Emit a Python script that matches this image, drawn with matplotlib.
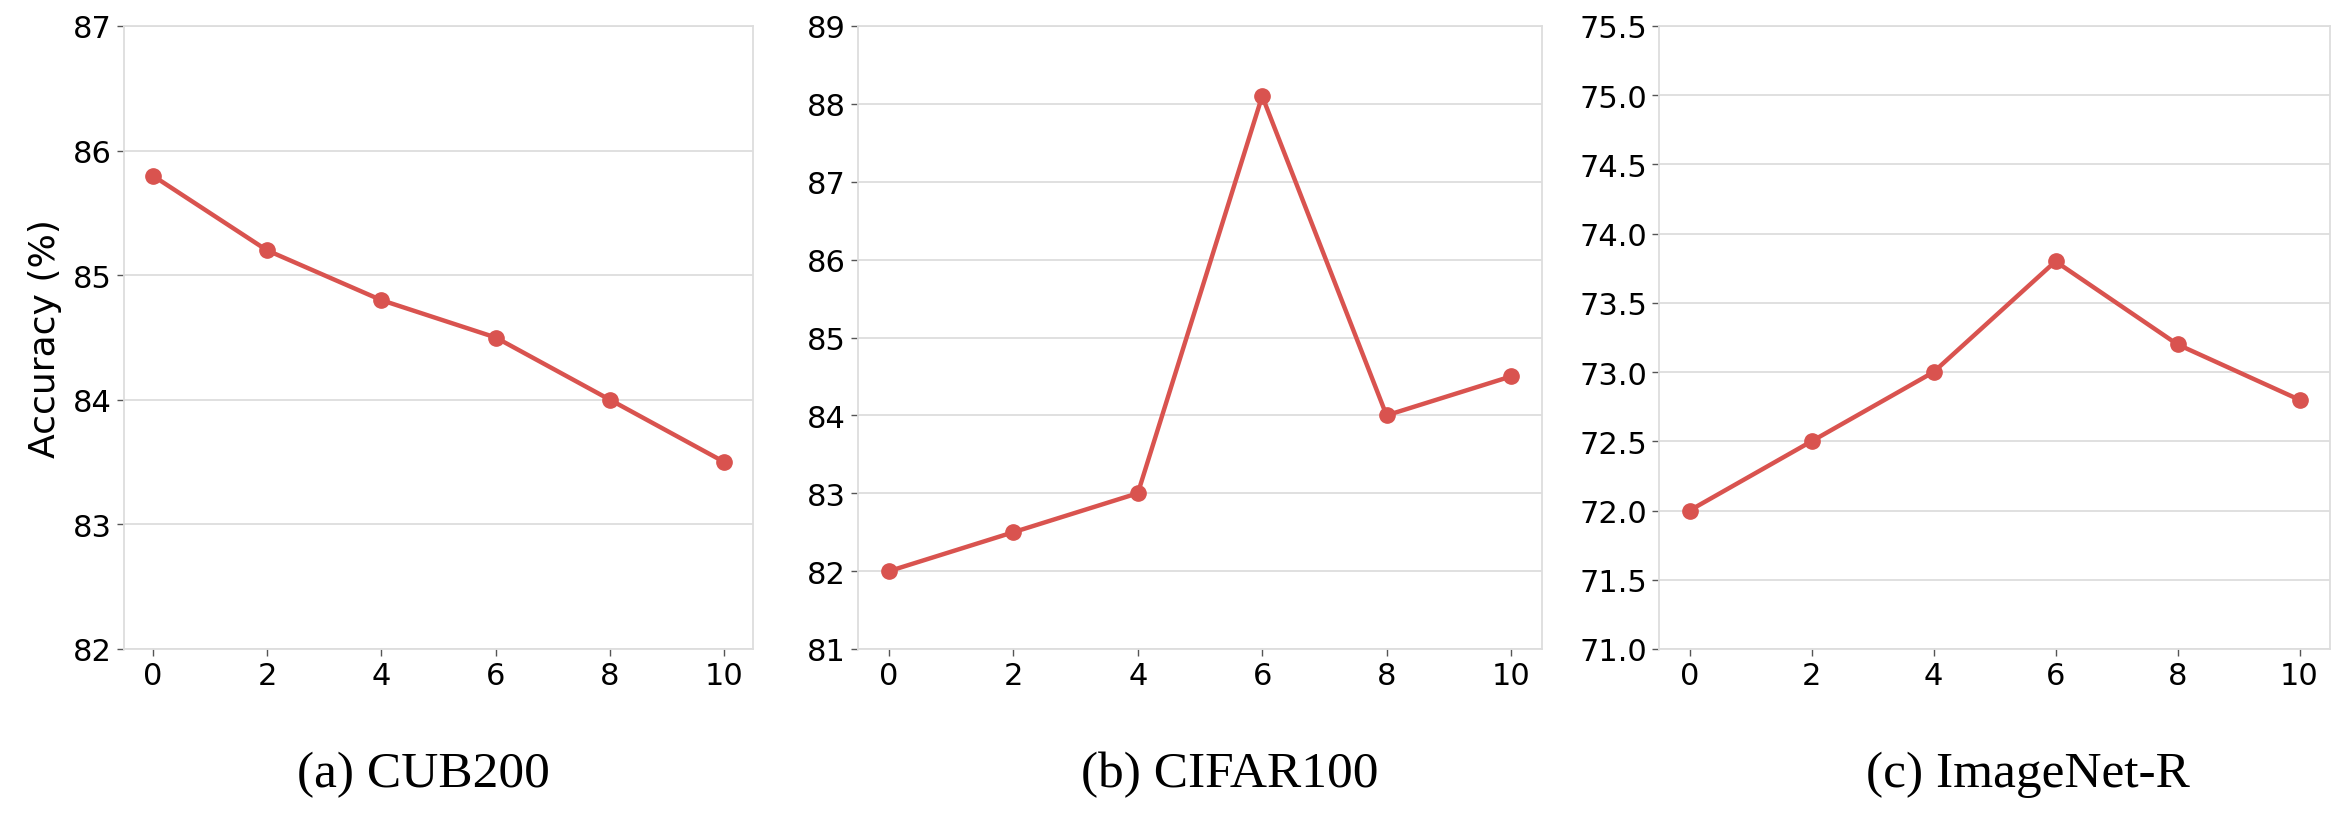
import matplotlib.pyplot as plt
import numpy as np

steps = [0, 2, 4, 6, 8, 10]
cub200 = [85.8, 85.2, 84.8, 84.5, 84.0, 83.5]
cifar100 = [82.0, 82.5, 83.0, 88.1, 84.0, 84.5]
imagenet_r = [72.0, 72.5, 73.0, 73.8, 73.2, 72.8]

captions = ['(a) CUB200', '(b) CIFAR100', '(c) ImageNet-R']
ylims = [(82, 87), (81, 89), (71, 75.5)]
yticks = [np.arange(82, 87.1, 1), np.arange(81, 89.1, 1), np.arange(71, 75.51, 0.5)]
fmts = ['%d', '%d', '%.1f']

color = '#d9534f'

fig = plt.figure(figsize=(23.48, 8.2), dpi=100)
lefts = [124, 858, 1659]
rights = [753, 1542, 2330]
cap_x = [423, 1230, 2028]
top, bottom = 27, 650
W, H = 2348, 820

for i, data in enumerate([cub200, cifar100, imagenet_r]):
    ax = fig.add_axes([lefts[i] / W, 1 - bottom / H, (rights[i] - lefts[i]) / W, (bottom - top) / H])
    ax.plot(steps, data, color=color, lw=3.2, marker='o', markersize=11)
    ax.set_xlim(-0.5, 10.5)
    ax.set_ylim(*ylims[i])
    ax.set_xticks(steps)
    ax.set_yticks(yticks[i])
    ax.yaxis.set_major_formatter(plt.FormatStrFormatter(fmts[i]))
    ax.grid(axis='y', color='#dddddd', lw=1.3)
    ax.set_axisbelow(True)
    for s in ax.spines.values():
        s.set_color('#dddddd')
        s.set_linewidth(1.3)
    ax.tick_params(labelsize=22, colors='#555555', labelcolor='black', length=5, width=1)
    fig.text(cap_x[i] / W, 1 - 752 / H, captions[i], ha='center', va='top',
             fontsize=37, family='Liberation Serif')
    if i == 0:
        ax.set_ylabel('Accuracy (%)', fontsize=26, labelpad=8)

fig.savefig('out.png', dpi=100)
